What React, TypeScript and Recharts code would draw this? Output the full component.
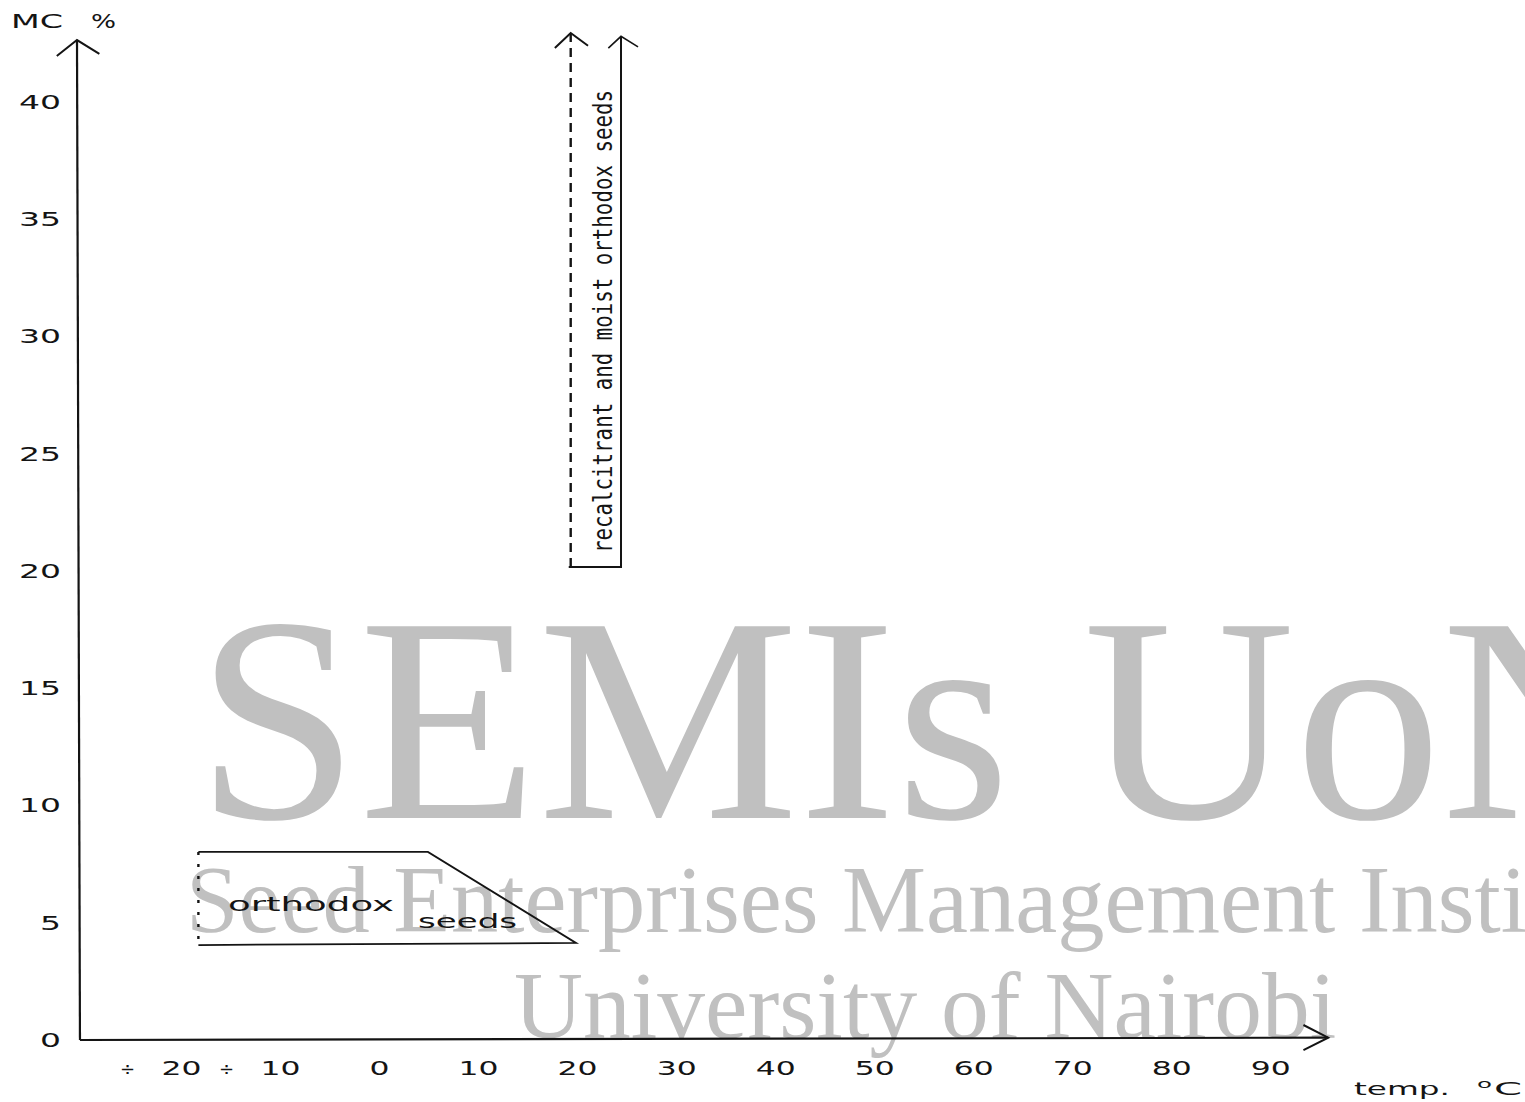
import { LineChart, Line, XAxis, YAxis } from "recharts"

// temperature (°C) ticks and moisture content (%) ticks
const xTicks = [-20, -10, 0, 10, 20, 30, 40, 50, 60, 70, 80, 90]
const yTicks = [0, 5, 10, 15, 20, 25, 30, 35, 40]

// hand-drawn axes with arrow heads
const yAxisPath = [
  { t: -30.26, v: 0 },
  { t: -30.56, v: 42.64 },
]
const yAxisHead = [
  { t: -32.6, v: 41.96 },
  { t: -30.56, v: 42.64 },
  { t: -28.3, v: 42.05 },
]
const xAxisPath = [
  { t: -30.26, v: 0 },
  { t: 95.8, v: 0.1 },
]
const xAxisHead = [
  { t: 93.3, v: 0.64 },
  { t: 95.8, v: 0.1 },
  { t: 93.3, v: -0.43 },
]

// recalcitrant and moist orthodox seeds band (open upwards)
const moistDashed = [
  { t: 19.3, v: 20.17 },
  { t: 19.3, v: 42.94 },
]
const moistDashedHead = [
  { t: 17.7, v: 42.3 },
  { t: 19.3, v: 42.94 },
  { t: 21.05, v: 42.4 },
]
const moistSolid = [
  { t: 19.1, v: 20.17 },
  { t: 24.38, v: 20.17 },
  { t: 24.38, v: 42.8 },
]
const moistSolidHead = [
  { t: 23.1, v: 42.3 },
  { t: 24.38, v: 42.8 },
  { t: 26.1, v: 42.35 },
]

// orthodox seeds storage zone
const orthodoxOutline = [
  { t: -18.3, v: 4.05 },
  { t: 19.83, v: 4.14 },
  { t: 4.88, v: 8.02 },
  { t: -18.3, v: 8.02 },
]
const orthodoxLeft = [
  { t: -18.3, v: 8.02 },
  { t: -18.3, v: 4.05 },
]

const ink = "#141414"
const tickFont = "DejaVu Sans"

function YTick(props: any) {
  const { y, payload } = props
  const s = String(payload.value)
  return (
    <text
      x={61}
      y={y}
      textAnchor="end"
      dominantBaseline="central"
      fontFamily={tickFont}
      fontSize={20}
      fill={ink}
      textLength={s.length * 21}
      lengthAdjust="spacingAndGlyphs"
    >
      {s}
    </text>
  )
}

function XTick(props: any) {
  const { x, payload } = props
  const v = payload.value as number
  const s = String(Math.abs(v))
  return (
    <g>
      {v < 0 && (
        <text
          x={x - 54}
          y={1068}
          textAnchor="middle"
          dominantBaseline="central"
          fontFamily={tickFont}
          fontSize={18}
          fill={ink}
        >
          ÷
        </text>
      )}
      <text
        x={x}
        y={1068}
        textAnchor="middle"
        dominantBaseline="central"
        fontFamily={tickFont}
        fontSize={20}
        fill={ink}
        textLength={s.length * 20}
        lengthAdjust="spacingAndGlyphs"
      >
        {s}
      </text>
    </g>
  )
}

function Stroke({
  data,
  width = 2,
  dash,
}: {
  data: { t: number; v: number }[]
  width?: number
  dash?: string
}) {
  return (
    <Line
      data={data}
      dataKey="v"
      type="linear"
      stroke={ink}
      strokeWidth={width}
      strokeDasharray={dash}
      dot={false}
      activeDot={false}
      isAnimationActive={false}
    />
  )
}

export default function App() {
  return (
    <div style={{ position: "relative", width: 1525, height: 1102, background: "#fff" }}>
      <style>{`body{margin:0;overflow:hidden}`}</style>

      {/* watermark behind the chart */}
      <svg
        width={1525}
        height={1102}
        style={{ position: "absolute", left: 0, top: 0, zIndex: 0 }}
      >
        <g fill="#c0c0c0" fontFamily="Liberation Serif">
          <text x={196} y={818} fontSize={293}>
            SEMIs UoN
          </text>
          <text x={186} y={932} fontSize={94.5}>
            Seed Enterprises Management Institute
          </text>
          <text x={514} y={1038} fontSize={95.5}>
            University of Nairobi
          </text>
        </g>
      </svg>

      <div style={{ position: "absolute", left: 0, top: 0, zIndex: 1 }}>
        <LineChart
          width={1525}
          height={1102}
          margin={{ top: 19.92, right: 184.91, bottom: 8.55, left: 0 }}
        >
          <XAxis
            type="number"
            dataKey="t"
            domain={[-33, 97]}
            ticks={xTicks}
            height={30}
            axisLine={false}
            tickLine={false}
            tick={<XTick />}
            interval={0}
          />
          <YAxis
            type="number"
            dataKey="v"
            domain={[-1, 43.5]}
            ticks={yTicks}
            width={52.83}
            axisLine={false}
            tickLine={false}
            tick={<YTick />}
            interval={0}
          />
          <Stroke data={yAxisPath} width={2.2} />
          <Stroke data={yAxisHead} width={2} />
          <Stroke data={xAxisPath} width={2.2} />
          <Stroke data={xAxisHead} width={2} />
          <Stroke data={moistDashed} width={2.4} dash="9 6" />
          <Stroke data={moistDashedHead} width={2} />
          <Stroke data={moistSolid} width={2} />
          <Stroke data={moistSolidHead} width={1.6} />
          <Stroke data={orthodoxOutline} width={1.8} />
          <Stroke data={orthodoxLeft} width={2.4} dash="3 9" />
        </LineChart>
      </div>

      {/* text labels on top */}
      <svg
        width={1525}
        height={1102}
        style={{ position: "absolute", left: 0, top: 0, zIndex: 2, pointerEvents: "none" }}
      >
        <g fill={ink} fontFamily={tickFont}>
          <text x={11} y={28} fontSize={20} textLength={52} lengthAdjust="spacingAndGlyphs">
            MC
          </text>
          <text x={91} y={28} fontSize={20} textLength={25} lengthAdjust="spacingAndGlyphs">
            %
          </text>
          <text x={1354} y={1095} fontSize={18} textLength={96} lengthAdjust="spacingAndGlyphs">
            temp.
          </text>
          <text x={1477} y={1088} fontSize={13} textLength={15} lengthAdjust="spacingAndGlyphs">
            o
          </text>
          <text x={1494} y={1095} fontSize={18} textLength={28} lengthAdjust="spacingAndGlyphs">
            C
          </text>
          <text
            x={228}
            y={911}
            fontSize={19}
            textLength={166}
            lengthAdjust="spacingAndGlyphs"
          >
            orthodox
          </text>
          <text
            x={418}
            y={928}
            fontSize={19}
            textLength={99}
            lengthAdjust="spacingAndGlyphs"
          >
            seeds
          </text>
        </g>
        <text
          transform="translate(612,553) rotate(-90)"
          fontFamily="DejaVu Sans Mono"
          fontSize={27}
          fill={ink}
          textLength={463}
          lengthAdjust="spacingAndGlyphs"
        >
          recalcitrant and moist orthodox seeds
        </text>
      </svg>
    </div>
  )
}
